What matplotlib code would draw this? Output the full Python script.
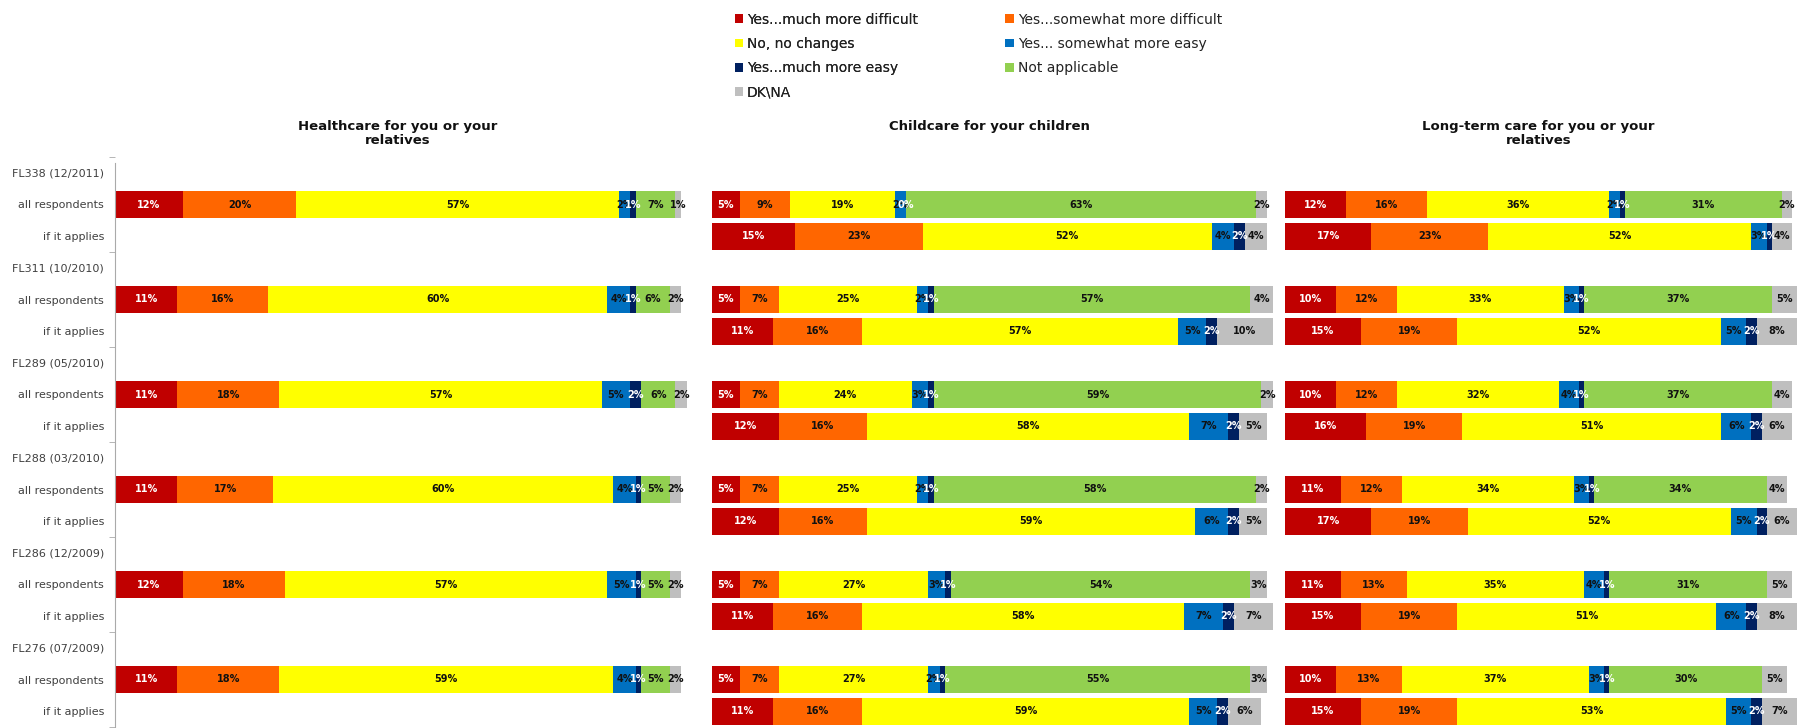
import numpy as np
import matplotlib
matplotlib.use('Agg')  # без GUI
import matplotlib.pyplot as plt
from matplotlib.patches import Patch

series = ['Yes...much more difficult', 'Yes...somewhat more difficult', 'No, no changes',
          'Yes... somewhat more easy', 'Yes...much more easy', 'Not applicable', 'DK\\NA']
colors = ['#C00000', '#FF6600', '#FFFF00', '#0070C0', '#002060', '#92D050', '#BFBFBF']
text_colors = ['white', '#111111', '#111111', '#111111', 'white', '#111111', '#111111']

periods = ['FL338 (12/2011)', 'FL311 (10/2010)', 'FL289 (05/2010)',
           'FL288 (03/2010)', 'FL286 (12/2009)', 'FL276 (07/2009)']
row_names = ['all respondents', 'if it applies']
titles = ['Healthcare for you or your\nrelatives', 'Childcare for your children',
          'Long-term care for you or your\nrelatives']

N = None  # категория отсутствует

health_all = [[12, 20, 57, 2, 1, 7, 1],
              [11, 16, 60, 4, 1, 6, 2],
              [11, 18, 57, 5, 2, 6, 2],
              [11, 17, 60, 4, 1, 5, 2],
              [12, 18, 57, 5, 1, 5, 2],
              [11, 18, 59, 4, 1, 5, 2]]

child_all = [[5, 9, 19, 2, 0, 63, 2],
             [5, 7, 25, 2, 1, 57, 4],
             [5, 7, 24, 3, 1, 59, 2],
             [5, 7, 25, 2, 1, 58, 2],
             [5, 7, 27, 3, 1, 54, 3],
             [5, 7, 27, 2, 1, 55, 3]]
child_if = [[15, 23, 52, 4, 2, N, 4],
            [11, 16, 57, 5, 2, N, 10],
            [12, 16, 58, 7, 2, N, 5],
            [12, 16, 59, 6, 2, N, 5],
            [11, 16, 58, 7, 2, N, 7],
            [11, 16, 59, 5, 2, N, 6]]

ltc_all = [[12, 16, 36, 2, 1, 31, 2],
           [10, 12, 33, 3, 1, 37, 5],
           [10, 12, 32, 4, 1, 37, 4],
           [11, 12, 34, 3, 1, 34, 4],
           [11, 13, 35, 4, 1, 31, 5],
           [10, 13, 37, 3, 1, 30, 5]]
ltc_if = [[17, 23, 52, 3, 1, N, 4],
          [15, 19, 52, 5, 2, N, 8],
          [16, 19, 51, 6, 2, N, 6],
          [17, 19, 52, 5, 2, N, 6],
          [15, 19, 51, 6, 2, N, 8],
          [15, 19, 53, 5, 2, N, 7]]

panels = [(health_all, None), (child_all, child_if), (ltc_all, ltc_if)]

W, H = 1811, 728
fig = plt.figure(figsize=(W / 100, H / 100), dpi=100)

# положение осей в пикселях: (лево, право)
ax_px = [(115, 681), (712, 1267), (1285, 1792)]
top_px, bot_px = 157, 727


def draw_row(ax, y, vals):
    left = 0
    for k, v in enumerate(vals):
        if v is None:
            continue
        ax.barh(y, v, left=left, height=0.86, color=colors[k], edgecolor='none', clip_on=False)
        ax.text(left + v / 2, y, f'{v}%', ha='center', va='center', fontsize=7,
                fontweight='bold', color=text_colors[k], clip_on=False)
        left += v


axes = []
for i, (a_rows, if_rows) in enumerate(panels):
    x0, x1 = ax_px[i]
    ax = fig.add_axes([x0 / W, (H - bot_px) / H, (x1 - x0) / W, (bot_px - top_px) / H])
    axes.append(ax)
    for p in range(len(periods)):
        draw_row(ax, 3 * p + 1, a_rows[p])
        if if_rows is not None:
            draw_row(ax, 3 * p + 2, if_rows[p])
    ax.set_xlim(0, 100)
    ax.set_ylim(17.5, -0.5)
    ax.set_xticks([])
    for s in ['top', 'right', 'bottom', 'left']:
        ax.spines[s].set_visible(False)
    fig.text((x0 + x1) / 2 / W, 1 - 120 / H, titles[i], ha='center', va='top',
             fontsize=9.5, fontweight='bold', color='#111111', linespacing=1.05)
    if i == 0:
        labels = []
        for p in periods:
            labels += [p] + row_names
        ax.set_yticks(range(len(labels)))
        ax.set_yticklabels(labels, fontsize=8, color='#404040',
                           family=['Liberation Sans Narrow', 'DejaVu Sans'])
        ax.tick_params(axis='y', which='major', length=0, pad=8)
        ax.set_yticks(np.arange(-0.5, 17.6, 3), minor=True)
        ax.tick_params(axis='y', which='minor', length=4, color='#aaaaaa')
        ax.spines['left'].set_visible(True)
        ax.spines['left'].set_color('#aaaaaa')
        ax.spines['left'].set_bounds(-0.3, 17.5)
    else:
        ax.set_yticks([])

handles = [Patch(facecolor=c, edgecolor='none') for c in colors]
leg_kw = dict(loc='upper left', frameon=False, fontsize=10, handlelength=0.6,
              handleheight=0.6, handletextpad=0.3, labelspacing=0.75, labelcolor='#222222')
leg1 = fig.legend([handles[k] for k in [0, 2, 4, 6]], [series[k] for k in [0, 2, 4, 6]],
                  bbox_to_anchor=(722 / W, 1), **leg_kw)
leg2 = fig.legend([handles[k] for k in [1, 3, 5]], [series[k] for k in [1, 3, 5]],
                  bbox_to_anchor=(993 / W, 1), **leg_kw)
fig.add_artist(leg1)

fig.savefig('out.png', dpi=100)
